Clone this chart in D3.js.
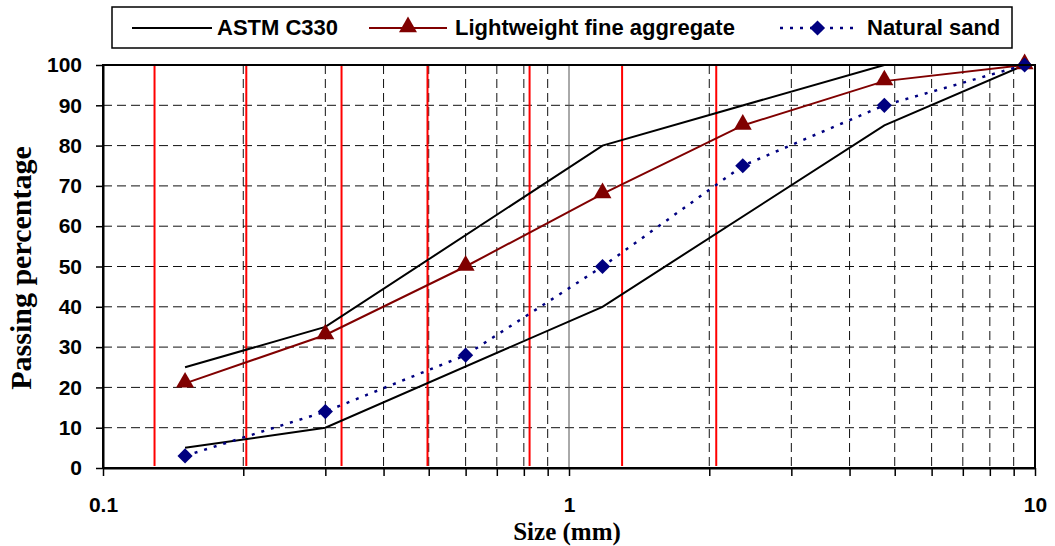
<!DOCTYPE html>
<html>
<head>
<meta charset="utf-8">
<script src="https://cdn.jsdelivr.net/npm/d3@7"></script>
<style>
  body { margin: 0; background: #fff; }
  svg { display: block; }
</style>
</head>
<body>
<div id="chart"></div>
<script>
// sieve sizes (mm)
var sizes = [0.15, 0.3, 0.6, 1.18, 2.36, 4.75, 9.5];
var astmSizes = [0.15, 0.3, 1.18, 4.75, 9.5];
var astmUpper = [25, 35, 80, 100, 100];
var astmLower = [5, 10, 40, 85, 100];
var lightweight = [21, 33, 50, 68, 85, 96, 100];
var naturalSand = [3, 14, 28, 50, 75, 90, 100];
// red vertical marker lines (mm)
var redLines = [0.129, 0.203, 0.325, 0.497, 0.823, 1.30, 2.07];
var yTicks = [0, 10, 20, 30, 40, 50, 60, 70, 80, 90, 100];
var xLabels = [0.1, 1, 10];

var W = 1055, H = 546;
var margin = { top: 65, right: 20, bottom: 78, left: 103 },
  width = W - margin.left - margin.right,
  height = H - margin.top - margin.bottom;

var svg = d3.select("#chart")
  .append("svg")
  .attr("width", W)
  .attr("height", H);

var g = svg.append("g")
  .attr("transform", "translate(" + margin.left + "," + margin.top + ")");

var x = d3.scaleLog().domain([0.1, 10]).range([0, width]);
var y = d3.scaleLinear().domain([0, 100]).range([height, 0]);

// all log ticks 0.1..10
var allTicks = [];
[0.1, 1].forEach(function (d) {
  for (var k = 1; k <= 10; k++) allTicks.push(+(d * k).toFixed(2));
});
allTicks = Array.from(new Set(allTicks));
var minorTicks = allTicks.filter(function (d) { return xLabels.indexOf(d) < 0; });

// horizontal grid
g.append("g").selectAll("line")
  .data(yTicks.filter(function (d) { return d > 0 && d < 100; }))
  .enter().append("line")
  .attr("x1", 0).attr("x2", width)
  .attr("y1", function (d) { return y(d); })
  .attr("y2", function (d) { return y(d); })
  .attr("stroke", "#111")
  .attr("stroke-width", 1)
  .attr("stroke-dasharray", "9,5");

// vertical minor grid (dashed)
g.append("g").selectAll("line")
  .data(minorTicks)
  .enter().append("line")
  .attr("x1", function (d) { return x(d); })
  .attr("x2", function (d) { return x(d); })
  .attr("y1", 0).attr("y2", height)
  .attr("stroke", "#111")
  .attr("stroke-width", 1)
  .attr("stroke-dasharray", "9,5");

// major grid at 1
g.append("line")
  .attr("x1", x(1)).attr("x2", x(1))
  .attr("y1", 0).attr("y2", height)
  .attr("stroke", "#555")
  .attr("stroke-width", 1);

// red lines
g.append("g").selectAll("line")
  .data(redLines)
  .enter().append("line")
  .attr("x1", function (d) { return x(d); })
  .attr("x2", function (d) { return x(d); })
  .attr("y1", 0).attr("y2", height - 2)
  .attr("stroke", "#ff0000")
  .attr("stroke-width", 2);

var line = d3.line()
  .x(function (d) { return x(d[0]); })
  .y(function (d) { return y(d[1]); });

function pairs(xs, ys) {
  return xs.map(function (d, i) { return [d, ys[i]]; });
}

// ASTM C330 envelope
[astmUpper, astmLower].forEach(function (vals) {
  g.append("path")
    .datum(pairs(astmSizes, vals))
    .attr("d", line)
    .attr("fill", "none")
    .attr("stroke", "#000")
    .attr("stroke-width", 2);
});

// lightweight fine aggregate
g.append("path")
  .datum(pairs(sizes, lightweight))
  .attr("d", line)
  .attr("fill", "none")
  .attr("stroke", "#800000")
  .attr("stroke-width", 2);

// natural sand
g.append("path")
  .datum(pairs(sizes, naturalSand))
  .attr("d", line)
  .attr("fill", "none")
  .attr("stroke", "#000080")
  .attr("stroke-width", 2.5)
  .attr("stroke-dasharray", "3,7");

var triangle = d3.symbol().type(d3.symbolTriangle).size(140);
var diamond = d3.symbol().type(d3.symbolSquare).size(115);

g.append("g").selectAll("path")
  .data(pairs(sizes, lightweight))
  .enter().append("path")
  .attr("d", triangle)
  .attr("transform", function (d) { return "translate(" + x(d[0]) + "," + (y(d[1]) - 1) + ")"; })
  .attr("fill", "#800000");

g.append("g").selectAll("path")
  .data(pairs(sizes, naturalSand))
  .enter().append("path")
  .attr("d", diamond)
  .attr("transform", function (d) { return "translate(" + x(d[0]) + "," + y(d[1]) + ") rotate(45)"; })
  .attr("fill", "#000080");

// frame (top and right)
g.append("rect")
  .attr("width", width).attr("height", height)
  .attr("fill", "none")
  .attr("stroke", "#000")
  .attr("stroke-width", 2);

// axes
var xAxis = g.append("g")
  .attr("transform", "translate(0," + height + ")")
  .call(d3.axisBottom(x).tickValues(allTicks).tickSize(8).tickSizeOuter(0)
    .tickFormat(function (d) { return xLabels.indexOf(d) >= 0 ? d : ""; }));
xAxis.select(".domain").attr("stroke-width", 2);
xAxis.selectAll(".tick line").attr("stroke-width", 1.5);
xAxis.selectAll("text")
  .attr("dy", 0)
  .attr("y", 44)
  .style("font-family", "'Liberation Sans', Arial, sans-serif")
  .style("font-weight", "bold")
  .style("font-size", "21px")
  .attr("fill", "#000");

var yAxis = g.append("g")
  .call(d3.axisLeft(y).tickValues(yTicks).tickSize(7).tickSizeOuter(0).tickPadding(14));
yAxis.select(".domain").attr("stroke-width", 2);
yAxis.selectAll(".tick line").attr("stroke-width", 1.5);
yAxis.selectAll("text")
  .style("font-family", "'Liberation Sans', Arial, sans-serif")
  .style("font-weight", "bold")
  .style("font-size", "21px")
  .attr("fill", "#000");

// axis titles
svg.append("text")
  .attr("x", 567).attr("y", 540)
  .attr("text-anchor", "middle")
  .style("font-family", "'Liberation Serif', 'Times New Roman', serif")
  .style("font-weight", "bold")
  .style("font-size", "25px")
  .text("Size (mm)");

svg.append("text")
  .attr("transform", "translate(31,268) rotate(-90)")
  .attr("text-anchor", "middle")
  .style("font-family", "'Liberation Serif', 'Times New Roman', serif")
  .style("font-weight", "bold")
  .style("font-size", "30px")
  .text("Passing percentage");

// legend
var legend = svg.append("g");
legend.append("rect")
  .attr("x", 112).attr("y", 7)
  .attr("width", 900).attr("height", 41)
  .attr("fill", "#fff")
  .attr("stroke", "#000")
  .attr("stroke-width", 1.5);

var legendItems = [
  { name: "ASTM C330", x1: 132, x2: 212, tx: 217, color: "#000", dash: null, mark: null },
  { name: "Lightweight fine aggregate", x1: 369, x2: 447, tx: 455, color: "#800000", dash: null, mark: "tri" },
  { name: "Natural sand", x1: 780, x2: 855, tx: 867, color: "#000080", dash: "3,7", mark: "dia" }
];

legendItems.forEach(function (d) {
  legend.append("line")
    .attr("x1", d.x1).attr("x2", d.x2)
    .attr("y1", 28).attr("y2", 28)
    .attr("stroke", d.color)
    .attr("stroke-width", d.dash ? 2.5 : 2)
    .attr("stroke-dasharray", d.dash);
  if (d.mark == "tri") {
    legend.append("path")
      .attr("d", triangle)
      .attr("transform", "translate(" + (d.x1 + d.x2) / 2 + ",27)")
      .attr("fill", d.color);
  }
  if (d.mark == "dia") {
    legend.append("path")
      .attr("d", diamond)
      .attr("transform", "translate(" + (d.x1 + d.x2) / 2 + ",28) rotate(45)")
      .attr("fill", d.color);
  }
  legend.append("text")
    .attr("x", d.tx).attr("y", 35)
    .style("font-family", "'Liberation Sans', Arial, sans-serif")
    .style("font-weight", "bold")
    .style("font-size", "22px")
    .text(d.name);
});
</script>
</body>
</html>
